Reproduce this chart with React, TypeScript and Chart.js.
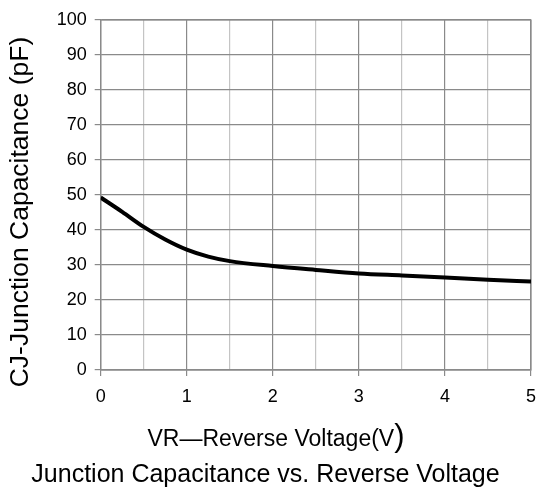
import React, { useEffect, useRef } from "react";
import { Chart, registerables } from "chart.js";

Chart.register(...registerables);

const voltage = [0, 0.25, 0.5, 0.75, 1, 1.25, 1.5, 2, 2.5, 3, 3.5, 4, 4.5, 5];
const capacitance = [49.3, 45.2, 40.9, 37.3, 34.4, 32.4, 31.1, 29.7, 28.6, 27.6, 27, 26.4, 25.8, 25.3];
const xTitleMain = "VR—Reverse Voltage(V";
const xTitleClose = ")";
const yTitle = "CJ-Junction Capacitance (pF)";
const chartTitle = "Junction Capacitance vs. Reverse Voltage";

const FONT = "'Liberation Sans', Arial, sans-serif";

export default function App() {
  const ref = useRef<HTMLCanvasElement>(null);
  useEffect(() => {
    if (!ref.current) return;
    const chart = new Chart(ref.current, {
      type: "line",
      data: {
        datasets: [
          {
            data: voltage.map((v, i) => ({ x: v, y: capacitance[i] })),
            borderColor: "#000",
            borderWidth: 4,
            pointRadius: 0,
            cubicInterpolationMode: "monotone",
            fill: false,
          },
        ],
      },
      options: {
        animation: false,
        responsive: true,
        maintainAspectRatio: false,
        layout: { padding: { top: 20, right: 7, left: 0, bottom: 7 } },
        plugins: {
          legend: { display: false },
          tooltip: { enabled: false },
          title: {
            display: true,
            position: "bottom",
            text: chartTitle,
            color: "#000",
            font: { family: FONT, size: 25, weight: "normal", lineHeight: 1.2 },
            padding: { top: 0, bottom: 0 },
          },
        },
        scales: {
          x: {
            type: "linear",
            min: 0,
            max: 5,
            afterFit: (s: any) => {
              s.height = 90;
              s.paddingLeft = 0;
              s.paddingRight = 0;
            },
            ticks: {
              stepSize: 0.5,
              color: "#000",
              font: { family: FONT, size: 18 },
              padding: 10,
              maxRotation: 0,
              autoSkip: false,
              callback: (v: any) => (Number.isInteger(Number(v)) ? String(v) : ""),
            },
            grid: {
              color: (ctx: any) =>
                ctx.tick && Number.isInteger(ctx.tick.value) ? "#8a8a8a" : "#c4c4c4",
              tickColor: (ctx: any) =>
                ctx.tick && Number.isInteger(ctx.tick.value) ? "#8a8a8a" : "rgba(0,0,0,0)",
              tickLength: 6,
              lineWidth: 1.2,
            },
            border: { color: "#8a8a8a", width: 1.2 },
          },
          y: {
            min: 0,
            max: 100,
            afterFit: (s: any) => {
              s.width = 100.7;
            },
            ticks: {
              stepSize: 10,
              color: "#000",
              font: { family: FONT, size: 18 },
              padding: 8,
            },
            grid: {
              color: "#8a8a8a",
              tickColor: "#8a8a8a",
              tickLength: 6,
              lineWidth: 1.2,
            },
            border: { color: "#8a8a8a", width: 1.2 },
          },
        },
      },
      plugins: [
        {
          id: "frame",
          beforeDatasetsDraw(c: any) {
            const { ctx, chartArea } = c;
            ctx.save();
            ctx.strokeStyle = "#8a8a8a";
            ctx.lineWidth = 1.2;
            ctx.strokeRect(chartArea.left, chartArea.top, chartArea.right - chartArea.left, chartArea.bottom - chartArea.top);
            ctx.restore();
          },
        },
        {
          id: "axisTitles",
          afterDraw(c: any) {
            const { ctx } = c;
            const xs = c.scales.x;
            const ys = c.scales.y;
            ctx.save();
            ctx.fillStyle = "#000";
            // x title with a larger closing parenthesis
            ctx.textBaseline = "alphabetic";
            ctx.textAlign = "left";
            const mainFont = `23px ${FONT}`;
            const closeFont = `31px ${FONT}`;
            ctx.font = mainFont;
            const w1 = ctx.measureText(xTitleMain).width;
            ctx.font = closeFont;
            const w2 = ctx.measureText(xTitleClose).width;
            const total = w1 + w2;
            const cx = c.width / 2 + 7;
            const baseY = xs.bottom - 14;
            const x0 = cx - total / 2;
            ctx.font = mainFont;
            ctx.fillText(xTitleMain, x0, baseY);
            ctx.font = closeFont;
            ctx.fillText(xTitleClose, x0 + w1, baseY);
            // y title, rotated
            const cy = (ys.top + ys.bottom) / 2 + 17;
            ctx.translate(21, cy);
            ctx.rotate(-Math.PI / 2);
            ctx.textAlign = "center";
            ctx.textBaseline = "middle";
            ctx.font = `26.5px ${FONT}`;
            ctx.fillText(yTitle, 0, 0);
            ctx.restore();
          },
        },
      ],
    } as any);
    return () => chart.destroy();
  }, []);
  return (
    <div style={{ position: "absolute", left: 0, top: 0, width: 538, height: 497, background: "#fff" }}>
      <canvas ref={ref} />
    </div>
  );
}
